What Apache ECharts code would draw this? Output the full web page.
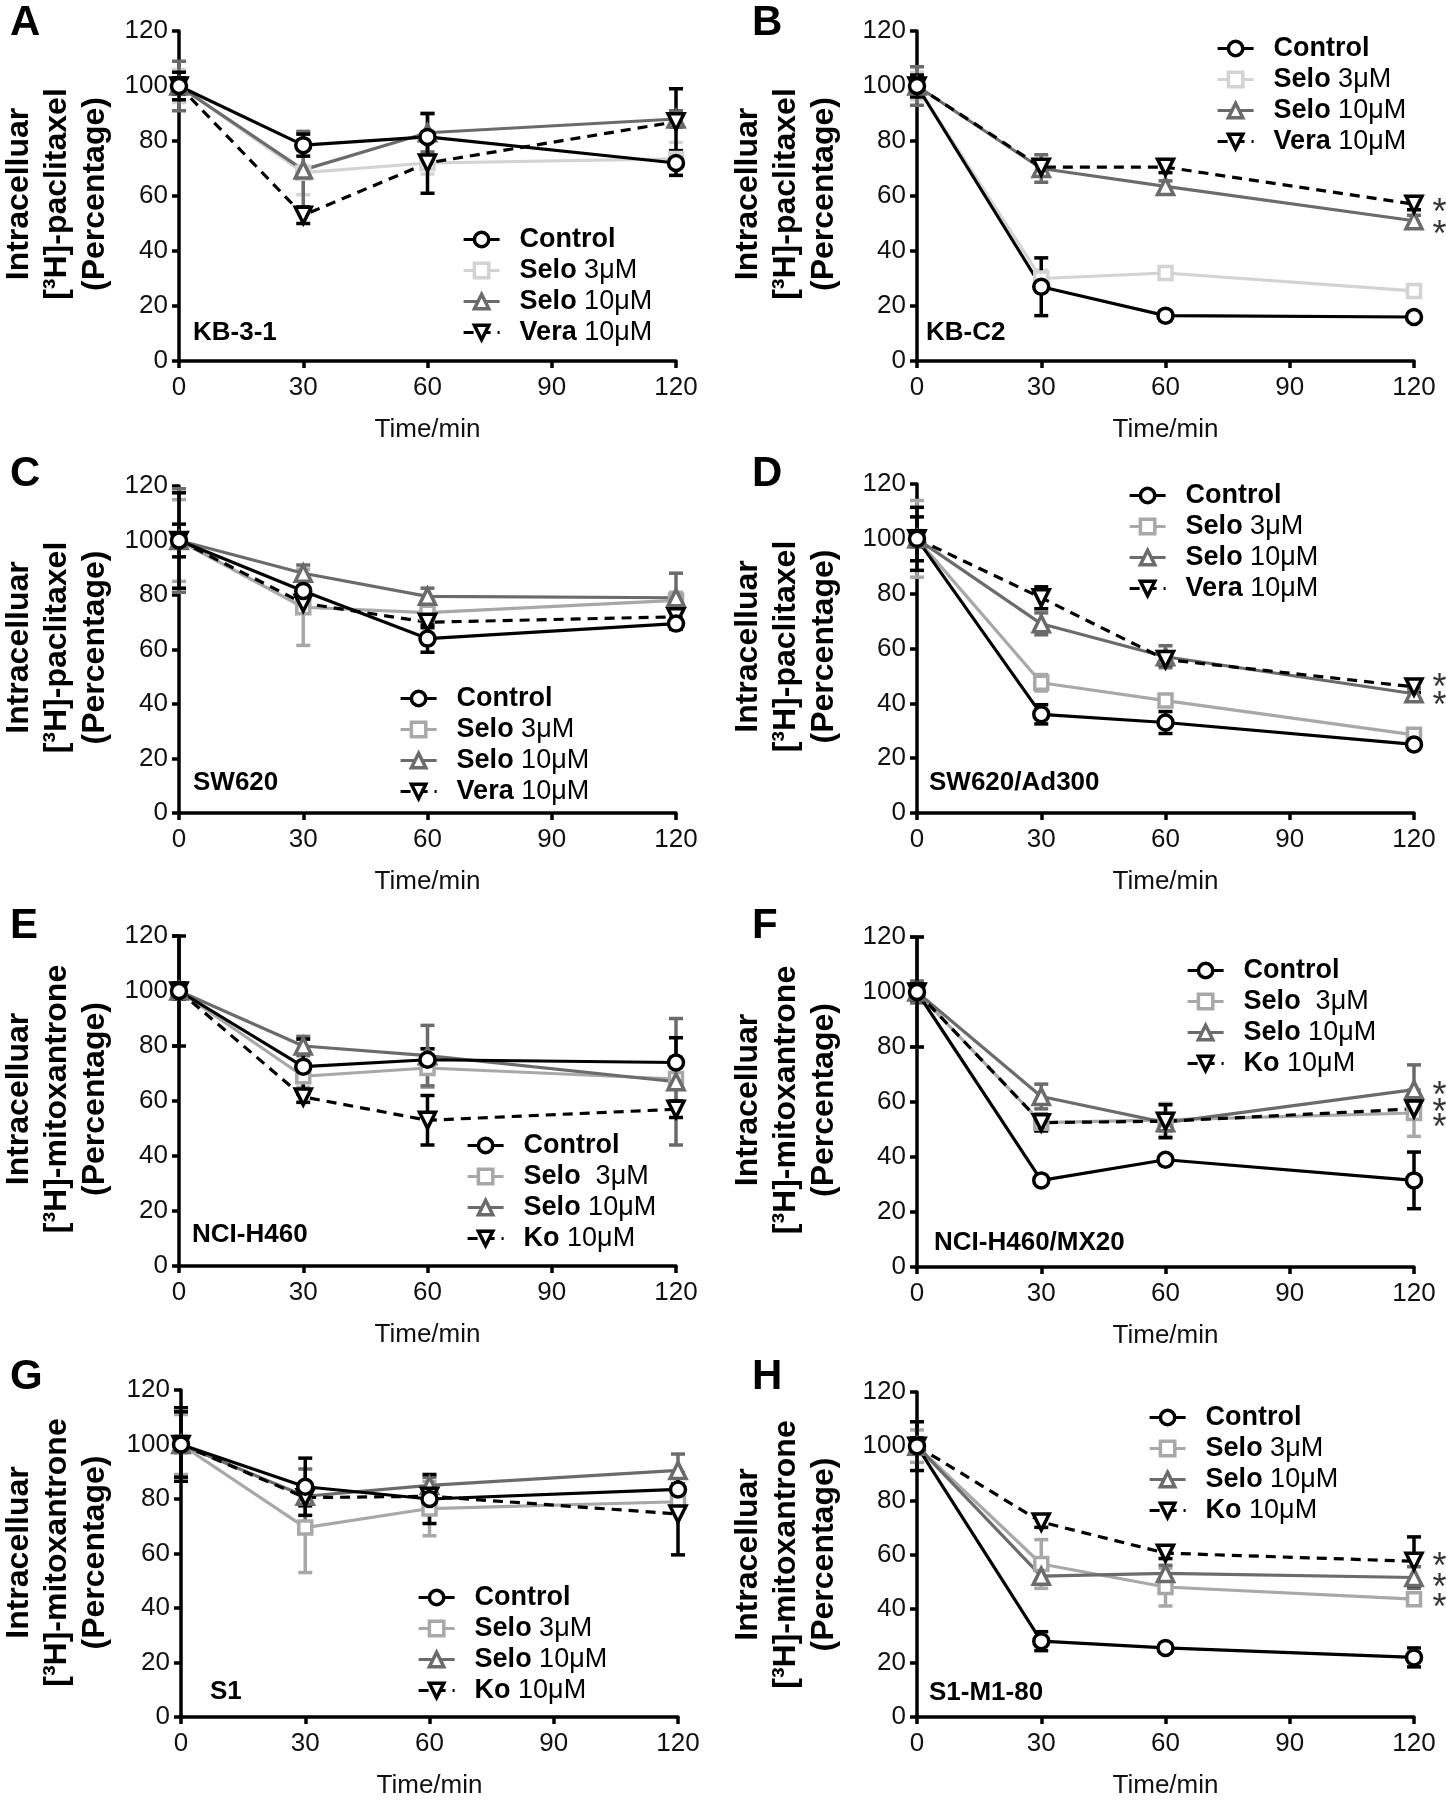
<!DOCTYPE html>
<html>
<head>
<meta charset="utf-8">
<script src="https://cdn.jsdelivr.net/npm/echarts@6/dist/echarts.min.js"></script>
<style>
html, body { margin: 0; background: #fff; }
#chart-container { width: 1446px; height: 1800px; }
</style>
</head>
<body>
<div id="chart-container"></div>
<script>
// time points (min) and axis ticks
var times = [0, 30, 60, 120];
var xTicks = [0, 30, 60, 90, 120];
var yTicks = [0, 20, 40, 60, 80, 100, 120];

var panelLetters = ['A', 'B', 'C', 'D', 'E', 'F', 'G', 'H'];
var cellLines = ['KB-3-1', 'KB-C2', 'SW620', 'SW620/Ad300', 'NCI-H460', 'NCI-H460/MX20', 'S1', 'S1-M1-80'];
var tracers = ['paclitaxel', 'paclitaxel', 'paclitaxel', 'paclitaxel', 'mitoxantrone', 'mitoxantrone', 'mitoxantrone', 'mitoxantrone'];

var namesVera = ['Control', 'Selo 3μM', 'Selo 10μM', 'Vera 10μM'];
var namesKoWide = ['Control', 'Selo  3μM', 'Selo 10μM', 'Ko 10μM'];
var namesKo = ['Control', 'Selo 3μM', 'Selo 10μM', 'Ko 10μM'];

// means: [Control, Selo 3, Selo 10, Vera/Ko]
var meanA = [[100, 78.5, 81.5, 72], [100, 68.5, 72, 73.5], [100, 69.5, 83, 88], [100, 53, 72, 87]];
var errA  = [[3, 4, 8.5, 4.5], [6, 8, 4, 6], [9, 14, 7, 3], [5, 3, 11, 12]];
var meanB = [[100, 27, 16.5, 16], [100, 30, 32, 25.5], [100, 70, 63.5, 51], [100, 70.5, 70.5, 57]];
var errB  = [[3, 10.5, 1.5, 1.5], [5, 3, 2, 2], [7, 5, 2, 2], [4, 2, 2, 2]];
var meanC = [[100, 81.5, 64, 69.5], [100, 75.5, 73.5, 78], [100, 88, 79.5, 79], [100, 77, 70, 72]];
var errC  = [[6, 4, 5, 2], [15, 14, 3, 3], [19, 3, 3, 9], [17.5, 3, 2, 2]];
var meanD = [[100, 36, 33, 25], [100, 47.5, 41, 28.5], [100, 69, 57, 43.5], [100, 78.5, 56, 46]];
var errD  = [[11.5, 3.5, 4, 1.5], [14, 3, 2, 2], [3, 4, 4, 2], [8, 4, 2, 2]];
var meanE = [[100, 72.5, 75, 74], [100, 69, 72, 68], [100, 80, 76.5, 67], [100, 61.5, 53, 57]];
var errE  = [[20, 10, 4, 9], [3, 4, 7, 8], [3, 3.5, 11, 23], [3, 2, 9, 3]];
var meanF = [[100, 31.5, 39, 31.5], [100, 52.5, 53.5, 56], [100, 62, 52.5, 64.5], [100, 52.5, 53, 57.5]];
var errF  = [[20, 1.5, 1.5, 10.3], [20, 3, 6, 8.5], [4, 4.5, 3, 9], [3, 3, 6, 3]];
var meanG = [[100, 84.5, 80, 83.5], [100, 69.5, 76.5, 79], [100, 81, 85, 90.5], [100, 80.5, 81, 74.5]];
var errG  = [[13.5, 10.5, 9, 2], [11, 16.5, 10, 3], [3, 10, 3, 6], [12, 3, 3, 15]];
var meanH = [[100, 28, 25.5, 22], [100, 56.5, 48, 43.5], [100, 52, 53, 51.5], [100, 72, 60.5, 57.5]];
var errH  = [[9, 3.5, 1.5, 3.5], [6, 9, 7, 2], [3, 3, 3, 4], [3, 2, 2, 9]];

// significance marks at 120 min (y value of each asterisk)
var starsA = [];
var starsB = [56.6, 48.6];
var starsC = [];
var starsD = [48.5, 41.9];
var starsE = [];
var starsF = [65, 58.8, 53.3];
var starsG = [];
var starsH = [58.2, 50.5, 43.2];

var means = [meanA, meanB, meanC, meanD, meanE, meanF, meanG, meanH];
var errs = [errA, errB, errC, errD, errE, errF, errG, errH];
var stars = [starsA, starsB, starsC, starsD, starsE, starsF, starsG, starsH];
var names = [namesVera, namesVera, namesVera, namesVera, namesKoWide, namesKoWide, namesKo, namesKo];

// layout (px)
var gridBox = [[179, 31, 497, 330], [917, 31, 497, 330], [179, 486, 497, 327], [917, 484, 497, 329],
	[179, 936, 497, 330], [917, 937, 497, 330], [181, 1390, 497, 329], [917, 1392, 497, 329]];
var legendPos = [[462, 224], [1216, 33], [399, 683], [1128, 480], [466, 1130], [1186, 955], [417, 1582], [1148, 1402]];
var labelPos = [[193, 333], [926, 333], [193, 783], [929, 783], [192, 1235], [934, 1243], [210, 1692], [929, 1693]];
var letterPos = [[10, 2], [752, 2], [10, 453], [752, 453], [10, 905], [752, 905], [10, 1356], [752, 1356]];
var titleX = [57, 786];

var FONT = '"Liberation Sans", Arial, Helvetica, sans-serif';
var symbols = ['circle', 'rect', 'triangle', 'triangle'];
var symbolRot = [0, 0, 0, 180];
var symbolSz = [15, 13, 16, 16];
var drawOrder = [1, 2, 3, 0];

function colorsFor(i) {
	if (i < 2) return ['#000000', '#d3d3d3', '#6b6b6b', '#000000'];
	return ['#000000', '#a8a8a8', '#6b6b6b', '#000000'];
}

function errRender(params, api) {
	var x = api.value(0);
	var top = api.coord([x, api.value(2)]);
	var bot = api.coord([x, api.value(1)]);
	var w = 7;
	var st = { stroke: api.visual('color'), lineWidth: 3.5 };
	return {
		type: 'group',
		children: [
			{ type: 'line', shape: { x1: top[0], y1: top[1], x2: bot[0], y2: bot[1] }, style: st },
			{ type: 'line', shape: { x1: top[0] - w, y1: top[1], x2: top[0] + w, y2: top[1] }, style: st },
			{ type: 'line', shape: { x1: bot[0] - w, y1: bot[1], x2: bot[0] + w, y2: bot[1] }, style: st }
		]
	};
}

var grids = [], xAxes = [], yAxes = [], legends = [], series = [], graphics = [];

panelLetters.forEach(function (letter, i) {
	var g = gridBox[i];
	var cols = colorsFor(i);
	grids.push({ left: g[0], top: g[1], width: g[2], height: g[3], containLabel: false });

	xAxes.push({
		gridIndex: i, type: 'value', min: xTicks[0], max: xTicks[xTicks.length - 1], interval: 30,
		name: 'Time/min', nameLocation: 'middle', nameGap: 56,
		nameTextStyle: { fontFamily: FONT, fontSize: 26, color: '#111' },
		axisLine: { show: true, onZero: false, lineStyle: { color: '#000', width: 3.5 } },
		axisTick: { show: true, length: 7, lineStyle: { color: '#000', width: 3.5 } },
		axisLabel: { fontFamily: FONT, fontSize: 26, color: '#111', margin: 14 },
		splitLine: { show: false }
	});
	yAxes.push({
		gridIndex: i, type: 'value', min: yTicks[0], max: yTicks[yTicks.length - 1], interval: 20,
		axisLine: { show: true, onZero: false, lineStyle: { color: '#000', width: 3.5 } },
		axisTick: { show: true, length: 7, lineStyle: { color: '#000', width: 3.5 } },
		axisLabel: { fontFamily: FONT, fontSize: 26, color: '#111', margin: 11 },
		splitLine: { show: false }
	});

	var legendNames = names[i].map(function (n) { return letter + '#' + n; });
	legends.push({
		left: legendPos[i][0], top: legendPos[i][1], orient: 'vertical', padding: 0, itemGap: 0,
		itemWidth: 36, itemHeight: 18, selectedMode: false, data: legendNames,
		itemStyle: { borderWidth: 3.5 },
		lineStyle: { width: 3.2 },
		formatter: function (n) {
			var t = n.split('#')[1];
			var sp = t.indexOf(' ');
			if (sp < 0) return '{b|' + t + '}';
			return '{b|' + t.slice(0, sp) + '}{n|' + t.slice(sp) + '}';
		},
		textStyle: {
			fontFamily: FONT, fontSize: 27, color: '#000', lineHeight: 31,
			rich: {
				b: { fontFamily: FONT, fontSize: 27, fontWeight: 'bold', color: '#000', lineHeight: 31, padding: [0, 0, 0, 15] },
				n: { fontFamily: FONT, fontSize: 27, color: '#000', lineHeight: 31 }
			}
		}
	});

	// error bars first so markers sit on top
	drawOrder.forEach(function (k) {
		series.push({
			type: 'custom', name: letter + '#err' + k, xAxisIndex: i, yAxisIndex: i,
			renderItem: errRender, itemStyle: { color: cols[k] }, z: 2,
			encode: { x: 0, y: [1, 2] },
			data: times.map(function (t, j) { return [t, means[i][k][j] - errs[i][k][j], means[i][k][j] + errs[i][k][j]]; })
		});
	});
	drawOrder.forEach(function (k) {
		series.push({
			type: 'line', name: legendNames[k], xAxisIndex: i, yAxisIndex: i, z: 3,
			symbol: symbols[k], symbolRotate: symbolRot[k], symbolSize: symbolSz[k],
			lineStyle: { color: cols[k], width: 3.2, type: k === 3 ? [10, 7] : 'solid' },
			itemStyle: { color: '#fff', borderColor: cols[k], borderWidth: 3.5 },
			data: times.map(function (t, j) { return [t, means[i][k][j]]; })
		});
	});
	if (stars[i].length) {
		series.push({
			type: 'scatter', name: letter + '#stars', xAxisIndex: i, yAxisIndex: i, silent: true,
			symbolSize: 1, itemStyle: { color: 'rgba(0,0,0,0)' },
			label: { show: true, formatter: '*', position: 'right', distance: 18, offset: [0, 9], fontFamily: FONT, fontSize: 36, color: '#000' },
			data: stars[i].map(function (v) { return [times[times.length - 1], v]; })
		});
	}

	graphics.push({
		type: 'text', x: letterPos[i][0], y: letterPos[i][1],
		style: { text: letter, fontFamily: FONT, fontSize: 42, fontWeight: 'bold', fill: '#000', align: 'left', verticalAlign: 'top' }
	});
	graphics.push({
		type: 'text', x: labelPos[i][0], y: labelPos[i][1],
		style: { text: cellLines[i], fontFamily: FONT, fontSize: 26, fontWeight: 'bold', fill: '#000', align: 'left', verticalAlign: 'middle' }
	});
	graphics.push({
		type: 'text', x: titleX[i % 2], y: g[1] + g[3] / 2 - 2, rotation: Math.PI / 2,
		style: {
			text: 'Intracelluar\n[³H]-' + tracers[i] + '\n(Percentage)',
			fontFamily: FONT, fontSize: 32, fontWeight: 'bold', fill: '#000', lineHeight: 38,
			align: 'center', verticalAlign: 'middle'
		}
	});
});

var dom = document.getElementById('chart-container');
var myChart = echarts.init(dom, null, { renderer: 'canvas' });

var option = {
	backgroundColor: '#fff',
	animation: false,
	textStyle: { fontFamily: FONT },
	grid: grids,
	xAxis: xAxes,
	yAxis: yAxes,
	legend: legends,
	series: series,
	graphic: graphics
};

myChart.setOption(option);
window.addEventListener('resize', myChart.resize);
</script>
</body>
</html>
